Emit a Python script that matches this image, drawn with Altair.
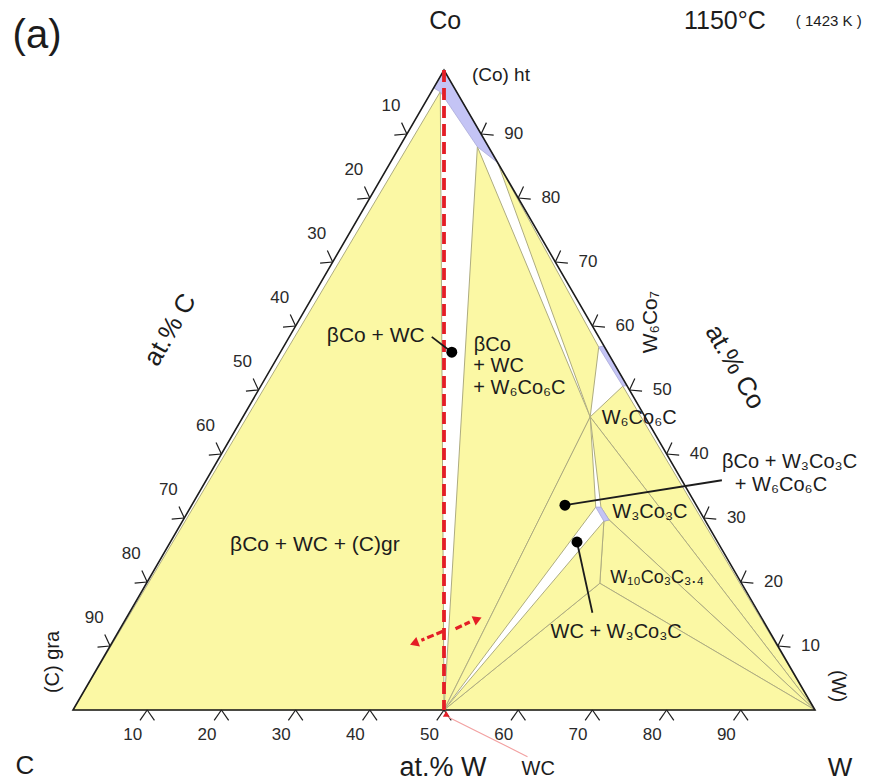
import numpy as np
import pandas as pd
import altair as alt

S3 = np.sqrt(3) / 2
FONT = "Liberation Sans"

# ---- phase-diagram points, (at.% W, at.% Co) ----
PTS = {
    "C": (0.0, 0.0), "W": (100.0, 0.0), "Co": (0.0, 100.0), "WC": (50.0, 0.0),
    "A1": (0.0, 97.2), "A2": (1.2, 96.6), "A3": (10.5, 88.0), "A4": (14.5, 85.5),
    "K": (46.8, 45.8),
    "Tin": (42.5, 56.7), "Ted": (43.1, 56.9), "Uin": (48.8, 50.6), "Ued": (49.3, 50.7),
    "Q1": (54.6, 31.7), "Q2": (55.3, 31.7), "Q3": (57.4, 29.7), "Q4": (56.8, 29.5),
    "P": (61.1, 19.8),
}
YELLOW_POLYS = {
    "y1": ["C", "WC", "A2"],
    "y2": ["WC", "A3", "K"],
    "y3": ["A4", "Tin", "K"],
    "y4": ["K", "Uin", "W"],
    "y5": ["K", "Q2", "Q3", "W"],
    "y6": ["Q4", "Q3", "W", "P"],
    "y7": ["WC", "P", "W"],
    "y8": ["WC", "Q4", "P"],
    "y9": ["WC", "K", "Q1"],
}
BLUE_POLYS = {
    "coht": ["Co", "A1", "A2", "A3", "A4"],
    "w6co7": ["Ted", "Ued", "Uin", "Tin"],
    "w3co3c": ["Q1", "Q2", "Q3", "Q4"],
}
TICKS = [10, 20, 30, 40, 50, 60, 70, 80, 90]

# labels: text, at.% W, at.% Co, font size, angle
LABELS_CENTER = [
    ("(a)", -57.5, 105.3, 40, 0),
    ("Co", -3.7, 107.7, 25, 0),
    ("1150°C", 34.0, 107.7, 25, 0),
    ("( 1423 K )", 48.0, 107.7, 15, 0),
    ("C", -2.1, -8.75, 26, 0),
    ("W", 107.9, -9.06, 26, 0),
    ("at.% W", 54.4, -9.06, 27, 0),
    ("WC", 67.3, -9.22, 20, 0),
    ("at.% C", -16.6, 59.4, 26, 300),
    ("at.% Co", 62.4, 53.6, 26, 60),
    ("(C) gra", -6.45, 7.5, 20, 270),
    ("(W)", 101.2, 3.75, 20, 90),
    ("W₆Co₇", 47.6, 60.6, 21, 270),
    ("βCo + WC", 11.6, 58.4, 21, 0),
    ("βCo + WC + (C)gr", 19.7, 25.8, 21, 0),
    ("W₆Co₆C", 53.5, 45.6, 20, 0),
    ("W₃Co₃C", 62.3, 30.9, 20, 0),
    ("W₁₀Co₃C₃.₄", 68.4, 20.6, 18, 0),
    ("WC + W₃Co₃C", 67.1, 12.2, 20, 0),
]
LABELS_LEFT = [
    ("(Co) ht", 4.16, 99.2, 19),
    ("βCo", 25.5, 57.0, 20),
    ("+ WC", 27.1, 53.7, 20),
    ("+ W₆Co₆C", 28.8, 50.3, 20),
    ("βCo + W₃Co₃C", 68.1, 38.75, 20),
    ("+ W₆Co₆C", 71.6, 35.2, 20),
]
DOTS = [(23.1, 55.9), (50.3, 32.0), (54.8, 26.25)]
LEADERS = [
    [(19.2, 58.3), (23.1, 55.9)],
    [(50.3, 32.0), (69.5, 35.9)],
    [(54.8, 26.25), (62.4, 15.2)],
]
PINK_LINE = [(51.1, -1.1), (64.9, -7.3)]
RED_ARROWS = [  # shaft start, shaft end, head position, head angle
    ((43.7, 12.3), (41.5, 10.9), (40.9, 10.5), 249),
    ((45.2, 12.7), (46.6, 13.75), (47.3, 14.1), 66),
]
WC_MARK = (50.6, -0.6)

YEL = "#fbf8a4"
BLUE = "#c4c4f5"
EDGE = "#aeac80"
RED = "#e41e26"
INK = "#1c1c1c"


def to_xy(w, c):
    return w + c / 2.0, c * S3


# scales: map to 874x784 canvas, triangle C at (73,710), W at (815,710)
XD = [-73 / 7.42, (874 - 73) / 7.42]
YD = [(710 - 784) / 7.39, 710 / 7.39]
X = alt.X("xu:Q", scale=alt.Scale(domain=XD, nice=False, zero=False), axis=None)
Y = alt.Y("yu:Q", scale=alt.Scale(domain=YD, nice=False, zero=False), axis=None)


def poly_df(polys):
    rows = []
    for name, pts in polys.items():
        for i, p in enumerate(pts):
            x, y = to_xy(*PTS[p])
            rows.append(dict(poly=name, ord=i, xu=x, yu=y))
    return pd.DataFrame(rows)


def seg_df(segs):
    rows = []
    for k, seg in enumerate(segs):
        for i, (w, c) in enumerate(seg):
            x, y = to_xy(w, c)
            rows.append(dict(seg=k, ord=i, xu=x, yu=y))
    return pd.DataFrame(rows)


def xy_seg_df(segs):
    rows = []
    for k, seg in enumerate(segs):
        for i, (x, y) in enumerate(seg):
            rows.append(dict(seg=k, ord=i, xu=x, yu=y))
    return pd.DataFrame(rows)


def polys_layer(polys, fill, stroke, sw):
    return alt.Chart(poly_df(polys)).mark_line(
        fill=fill, stroke=stroke, strokeWidth=sw, interpolate="linear-closed",
        strokeJoin="round"
    ).encode(x=X, y=Y, detail="poly:N", order="ord:Q")


def lines_layer(df, color, sw, dash=None):
    kw = dict(color=color, strokeWidth=sw, strokeCap="butt")
    if dash:
        kw["strokeDash"] = dash
    return alt.Chart(df).mark_line(**kw).encode(x=X, y=Y, detail="seg:N", order="ord:Q")


yellow = polys_layer(YELLOW_POLYS, YEL, EDGE, 1)
blue = polys_layer(BLUE_POLYS, BLUE, "#a9a9d8", 0.8)
outline = alt.Chart(poly_df({"tri": ["C", "W", "Co"]})).mark_line(
    fill=None, stroke=INK, strokeWidth=1.6, interpolate="linear-closed", strokeJoin="miter"
).encode(x=X, y=Y, detail="poly:N", order="ord:Q")

# ticks: chevrons with apex on the edge
L = 1.7
tick_segs = []
for t in TICKS:
    for (w, c), angs in [((t, 0.0), (235, 305)),
                         ((100 - t, t), (-5, 65)),
                         ((0.0, 100 - t), (185, 115))]:
        x0, y0 = to_xy(w, c)
        for a in angs:
            r = np.radians(a)
            tick_segs.append([(x0, y0), (x0 + L * np.cos(r), y0 + L * np.sin(r))])
ticks = lines_layer(xy_seg_df(tick_segs), INK, 1.2)

tick_rows = []
for t in TICKS:
    for w, c in [(t, -3.9), (100 - t + 4.4, t), (-4.3, 100 - t + 4.3)]:
        x, y = to_xy(w, c)
        tick_rows.append(dict(xu=x, yu=y, label=str(t)))
tick_labels = alt.Chart(pd.DataFrame(tick_rows)).mark_text(
    font=FONT, fontSize=17, color="#2a2a2a", align="center", baseline="middle"
).encode(x=X, y=Y, text="label:N")

red_dash = lines_layer(seg_df([[PTS["Co"], PTS["WC"]]]), RED, 3.8, [12, 6])
red_shafts = lines_layer(seg_df([[a, b] for a, b, _, _ in RED_ARROWS]), RED, 3.2, [7, 3])
hx = [to_xy(*h) for _, _, h, _ in RED_ARROWS]
red_heads = alt.Chart(pd.DataFrame(dict(
    xu=[p[0] for p in hx], yu=[p[1] for p in hx], ang=[a for *_, a in RED_ARROWS]
))).mark_point(shape="triangle", filled=True, color=RED, size=100, opacity=1).encode(
    x=X, y=Y, angle=alt.Angle("ang:Q", scale=None))
wx, wy = to_xy(*WC_MARK)
wc_mark = alt.Chart(pd.DataFrame(dict(xu=[wx], yu=[wy]))).mark_point(
    shape="triangle-up", filled=True, color=RED, size=45, opacity=1).encode(x=X, y=Y)
pink = lines_layer(seg_df([PINK_LINE]), "#f2a0a0", 1.1)

leaders = lines_layer(seg_df(LEADERS), INK, 1.8)
dx = [to_xy(*d) for d in DOTS]
dots = alt.Chart(pd.DataFrame(dict(xu=[p[0] for p in dx], yu=[p[1] for p in dx]))).mark_point(
    filled=True, color="#000000", size=120, opacity=1).encode(x=X, y=Y)


def text_df(rows, with_angle=True):
    out = []
    for r in rows:
        x, y = to_xy(r[1], r[2])
        d = dict(label=r[0], xu=x, yu=y, fs=r[3])
        if with_angle:
            d["ang"] = r[4]
        out.append(d)
    return pd.DataFrame(out)


txt_c = alt.Chart(text_df(LABELS_CENTER)).mark_text(
    font=FONT, color=INK, align="center", baseline="middle"
).encode(x=X, y=Y, text="label:N", size=alt.Size("fs:Q", scale=None),
         angle=alt.Angle("ang:Q", scale=None))
txt_l = alt.Chart(text_df(LABELS_LEFT, False)).mark_text(
    font=FONT, color=INK, align="left", baseline="middle"
).encode(x=X, y=Y, text="label:N", size=alt.Size("fs:Q", scale=None))

chart = alt.layer(
    yellow, blue, outline, ticks, tick_labels, pink, red_dash, red_shafts, red_heads,
    wc_mark, leaders, dots, txt_c, txt_l
).properties(
    width=874, height=784, padding=0,
    autosize=alt.AutoSizeParams(type="none"),
    background="white",
).configure_view(stroke=None)

chart.save("out.html", embed_options={"renderer": "svg", "actions": False})
